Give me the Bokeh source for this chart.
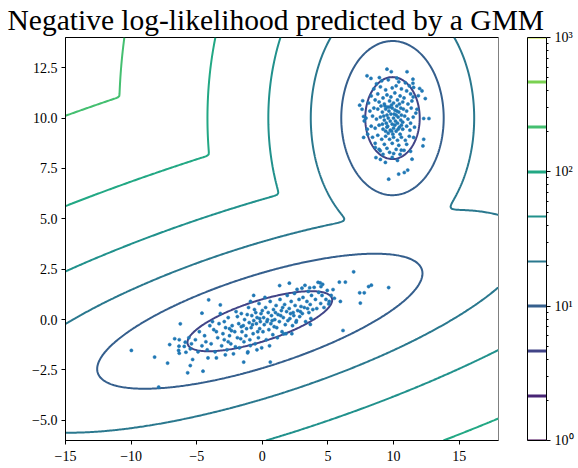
import numpy as np
from bokeh.plotting import figure
from bokeh.models import (FixedTicker, CustomJSTickFormatter, Range1d, ColorBar,
                          LogColorMapper, LinearColorMapper)
from bokeh.embed import file_html
from bokeh.resources import INLINE

# ---- GMM parameters ----
weights = [0.5, 0.5]
mean_top = [9.92, 10.0]
cov_top = [[1.02, 0.0], [0.0, 0.98]]
mean_bottom = [-0.19, -0.08]
cov_bottom = [[11.5, 2.2], [2.2, 0.84]]

levels = [1.0, 2.154, 4.642, 10.0, 21.54, 46.42, 100.0, 215.4, 464.2, 1000.0]
level_colors = ["#440154", "#482475", "#414487", "#355f8d", "#2a788e",
                "#21918c", "#22a884", "#44bf70", "#7ad151", "#bddf26"]

x_ticks = [-15, -10, -5, 0, 5, 10, 15]
y_ticks = [-5.0, -2.5, 0.0, 2.5, 5.0, 7.5, 10.0, 12.5]
cbar_major = [1, 10, 100, 1000]
cbar_minor = [2, 3, 4, 5, 6, 7, 8, 9, 20, 30, 40, 50, 60, 70, 80, 90, 200, 300, 400, 500, 600, 700, 800, 900]
title_text = "Negative log-likelihood predicted by a GMM"

# ---- training samples ----
top_points = [
    (9.50, 12.43), (9.83, 12.30), (11.03, 12.30), (7.98, 12.10), (8.28, 11.97), (8.92, 12.01),
    (10.26, 11.98), (11.48, 11.93), (11.48, 11.73), (11.53, 11.52), (11.99, 11.47), (12.17, 11.35),
    (12.42, 10.97), (11.89, 11.11), (7.42, 10.64), (7.65, 10.86), (7.60, 10.44), (7.72, 10.08),
    (7.77, 9.86), (7.72, 9.04), (8.03, 9.20), (8.66, 8.04), (9.38, 7.80), (11.53, 9.04),
    (12.30, 8.95), (12.24, 8.62), (11.41, 7.96), (12.30, 9.98), (12.70, 9.98), (11.79, 10.44),
    (10.39, 7.22), (10.82, 7.30), (11.08, 7.42), (9.63, 6.97), (10.01, 8.24), (10.59, 8.41),
    (8.61, 8.54), (8.99, 8.38),
    (9.1, 11.85), (9.6, 11.9), (10.4, 11.8), (10.9, 11.75), (8.7, 11.7), (11.2, 11.6),
    (8.5, 11.45), (9.0, 11.55), (9.4, 11.4), (9.9, 11.5), (10.2, 11.6), (10.6, 11.45), (11.0, 11.35), (11.3, 11.2),
    (8.3, 11.1), (8.8, 11.2), (9.2, 11.0), (9.5, 11.15), (9.8, 11.05), (10.1, 11.25), (10.5, 11.1),
    (10.8, 11.0), (11.5, 11.05), (8.6, 10.9),
    (8.1, 10.75), (8.9, 10.8), (9.3, 10.7), (9.7, 10.85), (10.0, 10.75), (10.3, 10.9), (10.7, 10.8),
    (11.1, 10.7), (11.4, 10.85), (9.05, 10.6), (9.55, 10.55), (10.25, 10.6), (10.55, 10.5),
    (8.2, 10.35), (8.5, 10.5), (8.8, 10.45), (9.15, 10.3), (9.4, 10.45), (9.65, 10.35), (9.9, 10.5),
    (10.1, 10.4), (10.4, 10.3), (10.75, 10.45), (11.0, 10.35), (11.35, 10.5), (11.7, 10.25),
    (9.8, 10.2), (10.2, 10.15), (9.5, 10.15), (10.6, 10.15),
    (7.9, 10.0), (8.4, 10.1), (8.7, 9.95), (9.0, 10.05), (9.3, 9.9), (9.6, 10.0), (9.75, 9.85),
    (10.0, 10.0), (10.15, 9.85), (10.35, 10.05), (10.55, 9.9), (10.85, 10.1), (11.1, 9.95), (11.5, 10.05),
    (9.45, 9.75), (9.9, 9.7), (10.3, 9.75), (10.7, 9.8), (9.15, 9.7), (11.3, 9.75), (10.05, 10.2),
    (8.0, 9.45), (8.3, 9.6), (8.6, 9.5), (8.9, 9.65), (9.2, 9.45), (9.5, 9.55), (9.75, 9.4),
    (10.0, 9.5), (10.2, 9.35), (10.45, 9.55), (10.7, 9.45), (11.0, 9.6), (11.25, 9.4), (11.6, 9.55),
    (9.6, 9.25), (9.95, 9.2), (10.5, 9.2),
    (8.4, 9.05), (8.8, 9.15), (9.1, 8.95), (9.4, 9.1), (9.7, 8.95), (10.0, 9.05), (10.3, 8.9),
    (10.6, 9.05), (10.9, 8.9), (11.2, 9.1), (8.6, 8.75), (9.3, 8.7), (9.9, 8.75), (10.4, 8.65), (11.0, 8.7),
    (8.9, 8.45), (9.5, 8.5), (10.2, 8.45), (10.8, 8.4), (9.2, 8.2), (9.7, 8.3), (10.5, 8.2), (11.3, 8.35),
    (9.0, 7.95), (9.9, 8.05), (10.3, 7.9),
    (9.35, 10.6), (9.85, 10.65), (10.45, 10.7), (9.25, 10.1), (9.7, 10.55), (10.25, 10.35),
    (9.55, 9.6), (10.1, 9.65), (10.6, 9.65), (9.85, 9.35), (10.35, 9.45), (9.4, 9.35),
]

bottom_points = [
    (-9.98, -1.53), (-7.90, -3.35), (-8.21, -1.86), (-7.22, -2.16), (-5.69, -2.64), (-5.49, -2.28),
    (-4.52, -2.56), (-4.14, -1.90), (-2.82, -1.75), (-1.42, -2.11), (0.61, -2.11), (-1.12, -1.65),
    (-0.41, -1.50), (-6.68, -0.95), (-6.25, -0.21), (-7.06, -1.24), (-6.38, -1.53), (-5.95, -1.33),
    (-5.82, -1.62), (-4.09, 0.98), (-4.60, 0.32), (-3.20, 0.73), (-0.66, 1.20), (1.32, 1.69),
    (2.06, 1.81), (3.02, 1.56), (3.61, 1.58), (4.42, 1.82), (4.47, 1.64), (5.39, 1.49), (5.87, 1.86),
    (6.33, 1.86), (6.96, 2.37), (7.42, 1.33), (7.77, 1.33), (8.10, 1.64), (8.31, 1.71), (9.63, 1.59),
    (7.47, 0.82), (5.95, 0.90), (6.15, -0.54), (5.49, 1.06), (5.06, 0.78), (3.66, -0.24), (2.57, -0.13),
    (1.63, -0.71), (-0.91, -1.29), (-5.31, -1.98), (-6.33, -1.0), (-6.35, -1.32), (-6.33, -1.67),
    (-5.87, -1.12), (-5.49, -1.45),
    (-5.1, -1.0), (-4.8, -0.6), (-4.6, -1.3), (-4.4, -0.8), (-4.2, -1.5), (-4.0, -0.3), (-4.9, -1.6), (-4.3, -1.1),
    (-3.9, -1.2), (-3.7, -0.5), (-3.6, -1.6), (-3.4, -0.9), (-3.3, -0.2), (-3.1, -1.3), (-3.0, -0.7),
    (-3.8, -0.1), (-3.5, -1.9), (-3.2, 0.3),
    (-2.9, -1.0), (-2.8, -0.4), (-2.7, -1.5), (-2.6, 0.1), (-2.5, -0.8), (-2.4, -1.2), (-2.3, -0.3),
    (-2.2, -1.7), (-2.1, -0.6), (-2.0, 0.4), (-2.9, -0.1), (-2.6, -1.1), (-2.35, -0.55), (-2.05, -1.35),
    (-1.9, -0.9), (-1.8, -0.2), (-1.75, -1.4), (-1.6, 0.3), (-1.55, -0.6), (-1.4, -1.1), (-1.35, 0.0),
    (-1.2, -0.45), (-1.1, -1.6), (-1.05, 0.6), (-1.9, 0.15), (-1.65, -0.95), (-1.45, -0.3), (-1.25, -0.8),
    (-1.15, 0.25), (-1.0, -0.15),
    (-0.95, -1.0), (-0.85, -0.4), (-0.8, 0.2), (-0.7, -0.7), (-0.6, 0.5), (-0.55, -1.2), (-0.45, -0.2),
    (-0.4, 0.1), (-0.3, -0.9), (-0.25, 0.8), (-0.2, -0.45), (-0.1, 0.3), (-0.05, -1.4), (-0.9, 0.9),
    (-0.65, -0.05), (-0.35, -0.6), (-0.15, -0.1), (-0.5, 0.35),
    (0.05, -0.6), (0.1, 0.1), (0.15, -0.25), (0.25, 0.6), (0.3, -1.0), (0.35, -0.1), (0.45, 0.35),
    (0.5, -0.5), (0.6, 0.9), (0.65, -0.2), (0.7, 0.2), (0.8, -0.75), (0.85, 0.5), (0.95, 0.0),
    (0.2, 1.1), (0.55, -1.3), (0.9, -0.35), (0.4, 0.0),
    (1.05, 0.7), (1.1, -0.4), (1.2, 0.25), (1.3, -0.1), (1.35, 1.0), (1.45, 0.45), (1.5, -0.6),
    (1.6, 0.1), (1.7, 0.75), (1.75, -0.25), (1.85, 0.4), (1.9, 1.2), (1.95, -0.05), (1.15, -0.9),
    (1.55, 0.6), (1.8, -0.7),
    (2.05, 0.55), (2.1, 0.05), (2.2, 0.9), (2.3, -0.3), (2.35, 0.35), (2.45, 1.3), (2.5, 0.7),
    (2.6, -0.05), (2.7, 0.45), (2.8, 1.0), (2.85, 0.15), (2.95, 0.65), (2.25, -0.7), (2.65, 1.5), (2.4, 0.2),
    (3.05, 0.3), (3.1, 1.1), (3.2, 0.6), (3.3, -0.1), (3.4, 0.9), (3.5, 1.4), (3.55, 0.35), (3.65, 0.75),
    (3.75, 1.2), (3.85, 0.5), (3.95, 1.6), (3.25, 1.7), (3.7, 0.05),
    (4.05, 1.0), (4.15, 0.55), (4.3, 1.35), (4.45, 0.8), (4.55, 1.2), (4.7, 0.6), (4.85, 1.0),
    (4.95, 1.45), (4.25, 1.85), (4.6, 1.75), (5.1, 0.9), (5.25, 1.2), (-5.4, -1.2), (-5.6, -0.9),
    (-0.75, -0.25), (0.0, 0.45), (0.75, -0.05), (1.4, 0.2), (2.15, 0.3), (2.9, 0.4), (-1.6, -0.35),
    (-2.5, -0.45), (-0.2, 0.05), (1.0, 0.35), (3.45, 0.55), (-3.5, -0.6),
]

# ---- negative log-likelihood field of the GMM ----
def comp_logpdf(X, Y, mean, cov):
    cov = np.array(cov, dtype=float)
    inv = np.linalg.inv(cov)
    det = np.linalg.det(cov)
    dx = X - mean[0]
    dy = Y - mean[1]
    m = inv[0, 0] * dx * dx + 2 * inv[0, 1] * dx * dy + inv[1, 1] * dy * dy
    return -0.5 * m - np.log(2 * np.pi) - 0.5 * np.log(det)

gx = np.linspace(-15.0, 18.0, 331)
gy = np.linspace(-6.0, 14.0, 201)
GX, GY = np.meshgrid(gx, gy)
l1 = np.log(weights[0]) + comp_logpdf(GX, GY, mean_top, cov_top)
l2 = np.log(weights[1]) + comp_logpdf(GX, GY, mean_bottom, cov_bottom)
Z = -np.logaddexp(l1, l2)

FONT = "Liberation Serif"
FRAME_H = 403

p = figure(width=578, height=468, x_range=Range1d(-15, 18), y_range=Range1d(-6, 14),
           min_border_left=65, min_border_right=80, min_border_top=37, min_border_bottom=28,
           toolbar_location=None, output_backend="svg", title=title_text)
p.grid.visible = False
p.outline_line_color = "black"
p.outline_line_width = 1
p.background_fill_color = "white"
p.border_fill_color = "white"
p.title.text_font = FONT
p.title.text_font_size = "29.5px"
p.title.text_font_style = "normal"
p.title.text_color = "black"
p.title.align = "left"
p.title.offset = -58
p.title.vertical_align = "top"
p.title.standoff = 0
p.title.text_line_height = 1.0

cr = p.contour(gx, gy, Z, levels, line_color=level_colors, line_width=2, fill_color=None)

px = [pt[0] for pt in top_points] + [pt[0] for pt in bottom_points]
py = [pt[1] for pt in top_points] + [pt[1] for pt in bottom_points]
p.scatter(px, py, size=3.2, fill_color="#1f77b4", line_color="#1f77b4", line_width=0.5)

for ax in (p.xaxis[0], p.yaxis[0]):
    ax.axis_line_color = "black"
    ax.major_tick_line_color = "black"
    ax.major_tick_out = 4
    ax.major_tick_in = 0
    ax.minor_tick_line_color = None
    ax.major_label_text_font = FONT
    ax.major_label_text_font_size = "14px"
    ax.major_label_text_color = "black"
p.xaxis.ticker = FixedTicker(ticks=x_ticks)
p.yaxis.ticker = FixedTicker(ticks=y_ticks)
p.xaxis.formatter = CustomJSTickFormatter(code="return (tick < 0 ? '\u2212' : '') + Math.abs(tick).toFixed(0);")
p.yaxis.formatter = CustomJSTickFormatter(code="return (tick < 0 ? '\u2212' : '') + Math.abs(tick).toFixed(1);")
p.xaxis.major_label_standoff = 6
p.yaxis.major_label_standoff = 4

# ---- colour bar: white bar with one coloured line per contour level (log scale) ----
lo, hi = levels[0], levels[-1]
n_cells = FRAME_H
cb_palette = []
for i in range(n_cells):
    pos = (i + 0.5) / n_cells * FRAME_H
    col = "#ffffff"
    for lev, c in zip(levels, level_colors):
        centre = np.log(lev / lo) / np.log(hi / lo) * FRAME_H
        if abs(pos - centre) <= 1.3:
            col = c
    cb_palette.append(col)

spacer = ColorBar(color_mapper=LinearColorMapper(palette=["#ffffff"], low=0, high=1),
                  width=29, height=FRAME_H, padding=0, margin=0,
                  ticker=FixedTicker(ticks=[]), major_tick_in=0, major_tick_out=0,
                  minor_tick_in=0, minor_tick_out=0, label_standoff=0,
                  major_tick_line_color=None, minor_tick_line_color=None,
                  bar_line_color=None, border_line_color=None, background_fill_color=None)
p.add_layout(spacer, "right")

cbar = ColorBar(color_mapper=LogColorMapper(palette=cb_palette, low=lo, high=hi),
                width=19, height=FRAME_H, padding=0, margin=0,
                ticker=FixedTicker(ticks=cbar_major, minor_ticks=cbar_minor),
                major_label_text_font=FONT, major_label_text_font_size="14px",
                major_label_text_color="black", label_standoff=4,
                major_tick_out=4, major_tick_in=0, minor_tick_out=2, minor_tick_in=0,
                major_tick_line_color="black", minor_tick_line_color="black",
                bar_line_color="black", bar_line_width=1,
                border_line_color=None, background_fill_color=None)
cbar.formatter = CustomJSTickFormatter(code="""
const sup = {'0': '\u2070', '1': '\u00b9', '2': '\u00b2', '3': '\u00b3'};
const e = Math.round(Math.log10(tick)).toString();
return '10' + (sup[e] || e);
""")
p.add_layout(cbar, "right")

open("out.html", "w").write(file_html(p, INLINE))
